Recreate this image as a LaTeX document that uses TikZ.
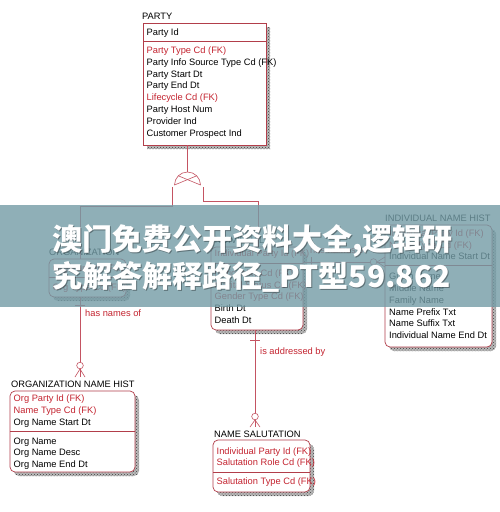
\documentclass[tikz,border=0pt]{standalone}
\usepackage{fontspec}
\setmainfont{Liberation Sans}
\newfontfamily\cjk{Noto Sans CJK SC}
\usetikzlibrary{patterns}
\definecolor{boxc}{RGB}{178,62,74}
\definecolor{fkc}{RGB}{196,36,48}
\definecolor{relc}{RGB}{196,84,98}
\definecolor{bandc}{RGB}{115,156,166}
\newcommand\entbox[6]{%
  \fill[gray!55, rounded corners=#6] (#2+4,#3+4) rectangle (#4+4,#5+4);
  \fill[pattern=crosshatch dots, pattern color=black!75, rounded corners=#6] (#2+4,#3+4) rectangle (#4+4,#5+4);
  \node[ebox, rounded corners=#6, anchor=north west, minimum width={#4-#2}, minimum height={#5-#3}] (#1) at (#2,#3) {};
}
\newcommand\divline[2]{\draw[boxc, line width=0.7pt] (#1.west |- 0,#2) -- (#1.east |- 0,#2);}
\begin{document}
\begin{tikzpicture}[x=1pt,y=-1pt,
  ebox/.style={draw=boxc, line width=0.7pt, fill=white, inner sep=0pt, outer sep=0pt},
  title/.style={font=\fontsize{9.3}{11}\selectfont, anchor=base west, inner sep=0pt, text=black},
  row/.style={font=\fontsize{9.3}{11}\selectfont, anchor=base west, inner sep=0pt},
  rel/.style={draw=relc, line width=0.6pt},
  rlabel/.style={font=\fontsize{9.3}{11}\selectfont, anchor=base west, inner sep=0pt, text=fkc},
  wm/.style={font=\cjk\bfseries\fontsize{30}{30}\selectfont, anchor=base west, inner sep=0pt, text=white},
  wmsh/.style={font=\cjk\bfseries\fontsize{30}{30}\selectfont, anchor=base west, inner sep=0pt, text=black, text opacity=0.35}]
\useasboundingbox (0,0) rectangle (500,512);
\fill[white] (0,0) rectangle (500,512);

% PARTY
\entbox{party}{143}{23}{266}{145}{0pt}
\node[title] (partyT) at (142,19.3) {PARTY};
\node[row] (party-k1) at (146.5,35.5) {Party Id};
\divline{party}{41}
\foreach \c/\t [count=\i] in {fkc/Party Type Cd (FK), black/Party Info Source Type Cd (FK), black/Party Start Dt, black/Party End Dt, fkc/Lifecycle Cd (FK), black/Party Host Num, black/Provider Ind, black/Customer Prospect Ind}
  \node[row, text=\c] (party-b\i) at (146.5,{53.3+11.86*(\i-1)}) {\t};

% category symbol
\coordinate (cattop) at (187.5,172);
\coordinate (catL) at (172,187);
\coordinate (catR) at (203,187);
\draw[rel] (party.south -| cattop) -- (cattop);
\draw[rel] (174.5,185) arc[start angle=180, end angle=360, radius=13];
\draw[rel] (187.5,185) ++(225:13) -- (200.5,185);
\draw[rel] (187.5,185) ++(315:13) -- (174.5,185);

% ORGANIZATION
\entbox{org}{49}{259}{126}{297}{5pt}
\node[title] (orgT) at (49,255.5) {ORGANIZATION};
\node[row, text=fkc] (org-k1) at (52.5,271.3) {Org Party Id (FK)};
\divline{org}{277.5}
\node[row, text=fkc] (org-b1) at (52.5,290.3) {Org Type Cd (FK)};

% INDIVIDUAL
\entbox{ind}{211}{247}{303}{330}{5pt}
\node[title] (indT) at (212,243.3) {INDIVIDUAL};
\node[row, text=fkc] (ind-k1) at (214.5,256.3) {Individual Party Id (FK)};
\divline{ind}{263}
\foreach \c/\t [count=\i] in {fkc/Nationality Cd (FK), fkc/Marital Status Cd (FK), fkc/Gender Type Cd (FK), black/Birth Dt, black/Death Dt}
  \node[row, text=\c] (ind-b\i) at (214.5,{276.3+11.75*(\i-1)}) {\t};

% INDIVIDUAL NAME HIST
\entbox{inh}{385}{225}{492}{347}{5pt}
\node[title] (inhT) at (385,221.3) {INDIVIDUAL NAME HIST};
\foreach \c/\t [count=\i] in {fkc/Individual Party Id (FK), fkc/Name Type Cd (FK), black/Individual Name Start Dt}
  \node[row, text=\c] (inh-k\i) at (389,{236.3+11.7*(\i-1)}) {\t};
\divline{inh}{265.5}
\foreach \c/\t [count=\i] in {black/Given Name, black/Middle Name, black/Family Name, black/Name Prefix Txt, black/Name Suffix Txt, black/Individual Name End Dt}
  \node[row, text=\c] (inh-b\i) at (389,{279.6+11.8*(\i-1)}) {\t};

% ORGANIZATION NAME HIST
\entbox{onh}{10}{391}{135}{472}{5pt}
\node[title] (onhT) at (11,387.3) {ORGANIZATION NAME HIST};
\foreach \c/\t [count=\i] in {fkc/Org Party Id (FK), fkc/Name Type Cd (FK), black/Org Name Start Dt}
  \node[row, text=\c] (onh-k\i) at (13.5,{401.3+11.9*(\i-1)}) {\t};
\divline{onh}{431.5}
\foreach \c/\t [count=\i] in {black/Org Name, black/Org Name Desc, black/Org Name End Dt}
  \node[row, text=\c] (onh-b\i) at (13.5,{444.3+11.6*(\i-1)}) {\t};

% NAME SALUTATION
\entbox{ns}{213}{440}{310}{492}{5pt}
\node[title] (nsT) at (214,437.5) {NAME SALUTATION};
\node[row, text=fkc] (ns-k1) at (216.5,454.3) {Individual Party Id (FK)};
\node[row, text=fkc] (ns-k2) at (216.5,465.6) {Salutation Role Cd (FK)};
\divline{ns}{472.5}
\node[row, text=fkc] (ns-b1) at (216.5,484.5) {Salutation Type Cd (FK)};

% category lines
\draw[rel] (catL) |- (80,206) -- (org.north -| 80,0);
\draw[rel] (catR) |- (258,201) -- (ind.north -| 258,0);

% ORGANIZATION -> ORGANIZATION NAME HIST
\coordinate (onhEnd) at (80,377);
\draw[rel] (org.south -| onhEnd) -- (onhEnd);
\draw[rel] (75,305) -- (85,305);
\draw[rel] (80,369) -- (75,377) (80,369) -- (85,377);
\draw[rel, fill=white] (80,365.5) circle[radius=3.3];
\node[rlabel] (rel1) at (85,316.5) {has names of};

% INDIVIDUAL -> INDIVIDUAL NAME HIST
\draw[rel] (ind.east |- 0,262) -- (inh.west |- 0,262);
\draw[rel] (311,257) -- (311,267);
\draw[rel] (377,262) -- (385,257) (377,262) -- (385,267);
\draw[rel, fill=white] (373.5,262) circle[radius=3.3];
\node[rlabel] (rel2) at (310,253) {has names of};

% INDIVIDUAL -> NAME SALUTATION
\coordinate (nsEnd) at (255,427);
\draw[rel] (ind.south -| nsEnd) -- (nsEnd);
\draw[rel] (250,340) -- (260,340);
\draw[rel] (255,420) -- (250,427) (255,420) -- (260,427);
\draw[rel, fill=white] (255,416.5) circle[radius=3.3];
\node[rlabel] (rel3) at (260,354.5) {is addressed by};

% watermark band
\fill[bandc, fill opacity=0.8] (0,205) rectangle (500,307);
\node[wmsh] (wm1s) at (53,251) {澳门免费公开资料大全,逻辑研};
\node[wmsh] (wm2s) at (53,288) {究解答解释路径\_PT型59.862};
\node[wm] (wm1) at (52,250) {澳门免费公开资料大全,逻辑研};
\node[wm] (wm2) at (52,287) {究解答解释路径\_PT型59.862};
\end{tikzpicture}
\end{document}
